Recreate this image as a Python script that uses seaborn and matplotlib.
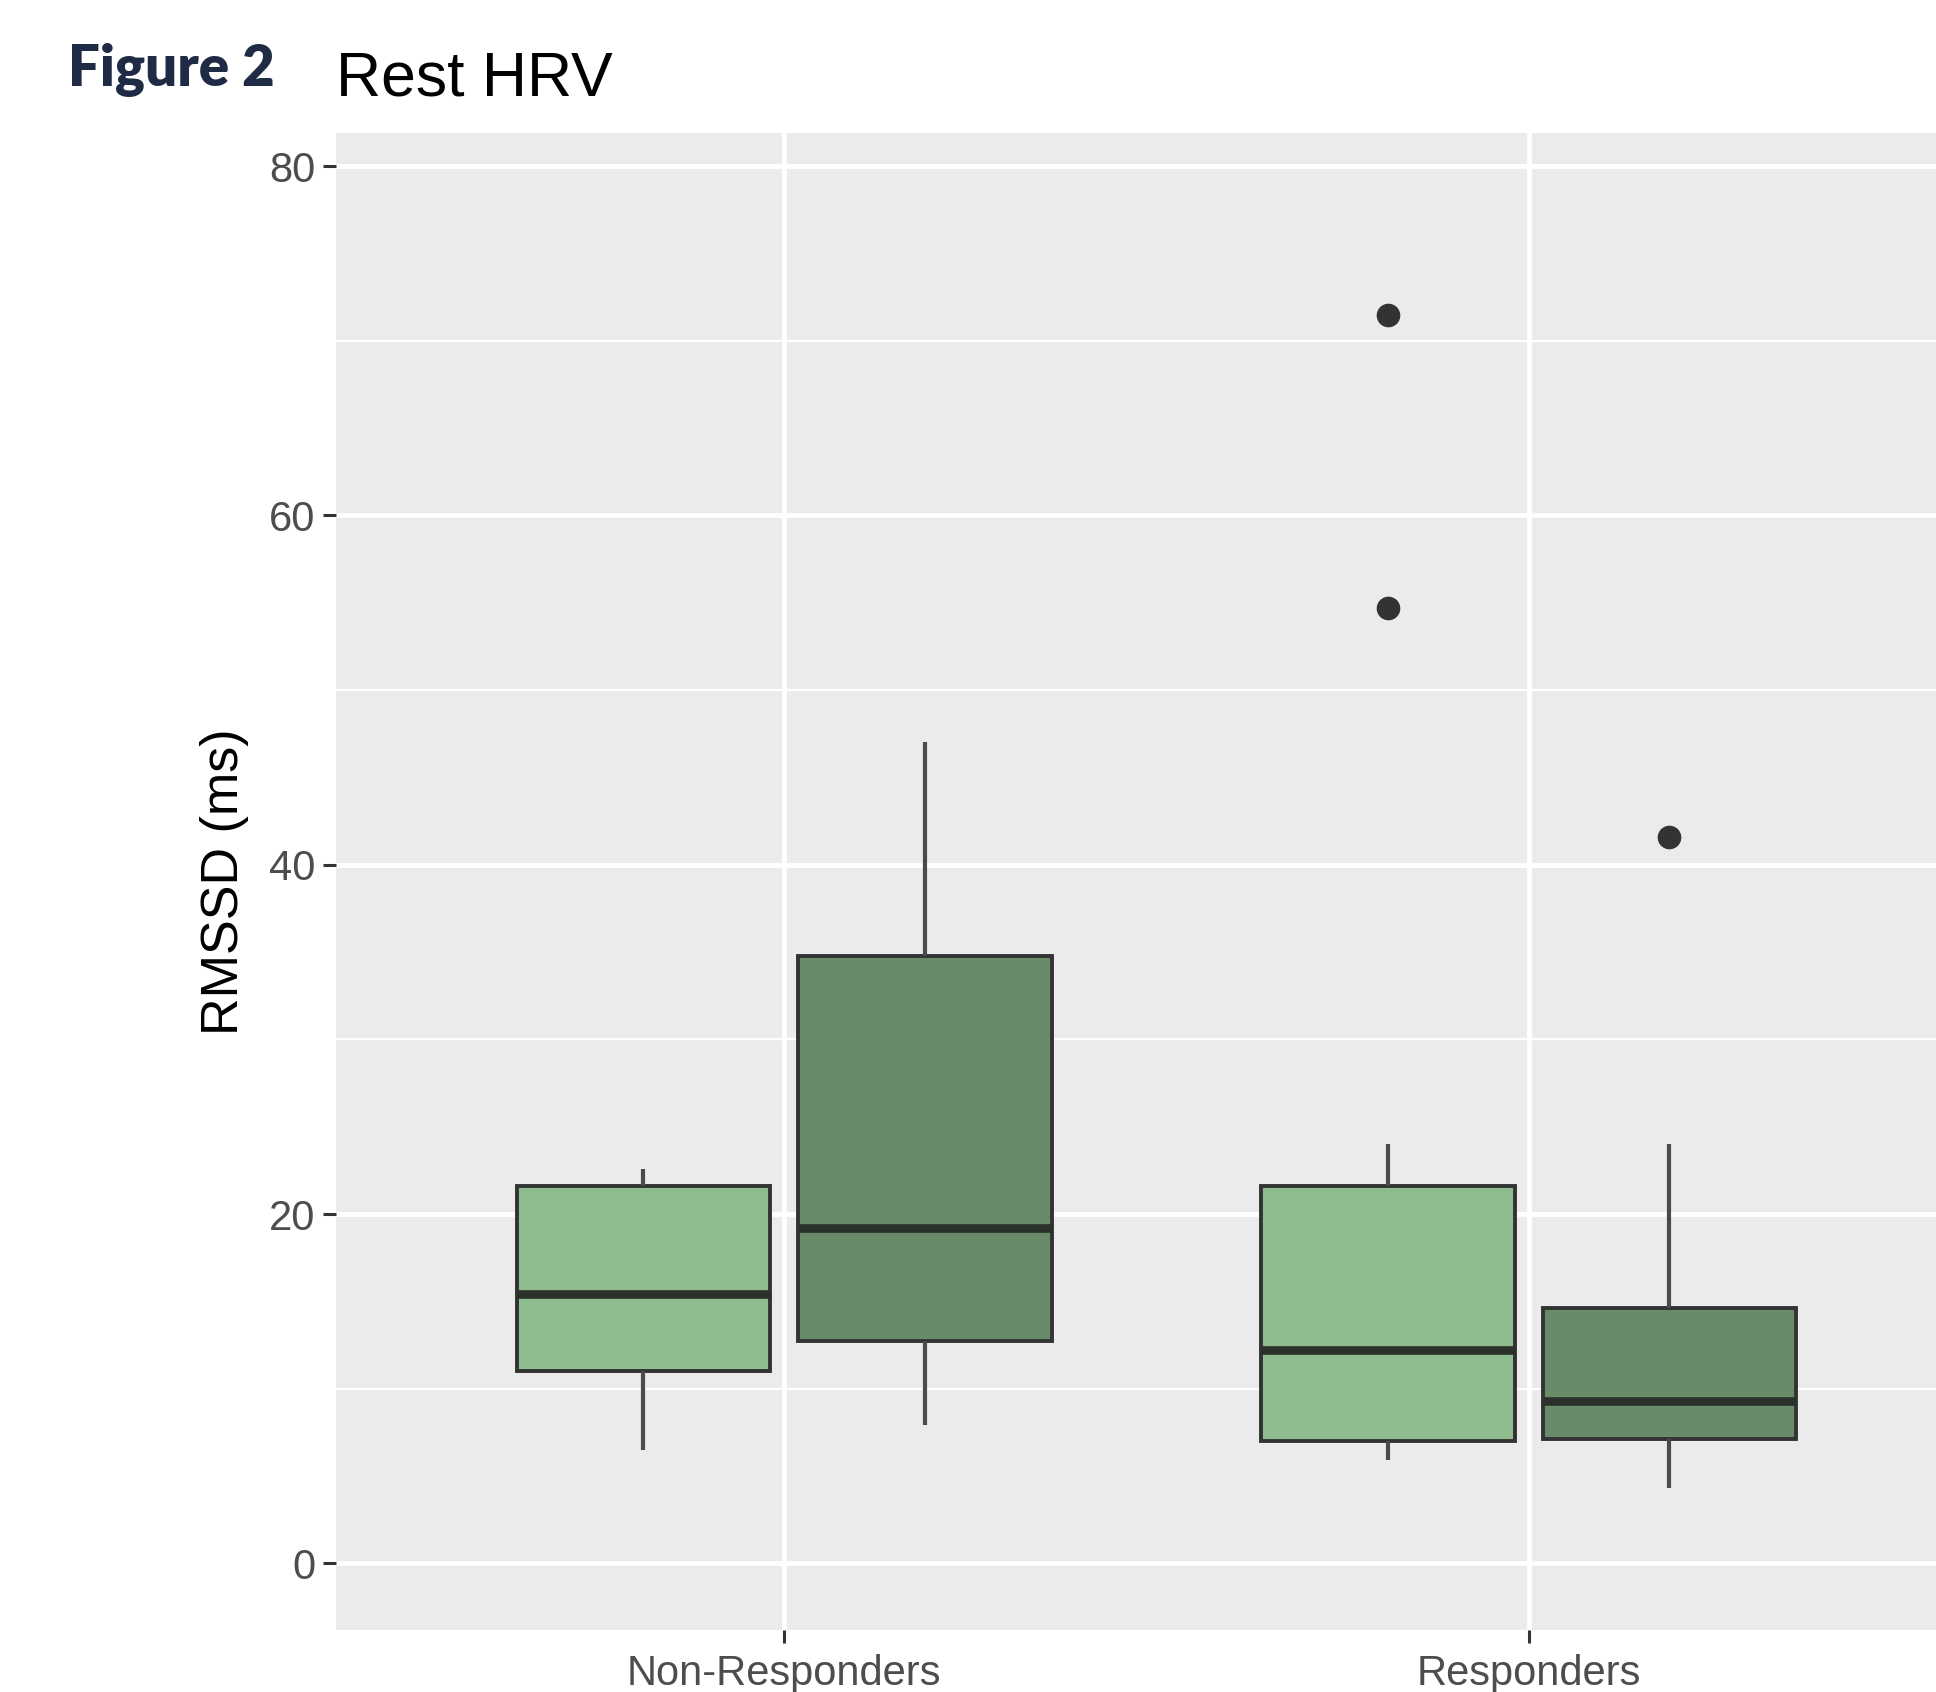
import numpy as np
import pandas as pd
import matplotlib
matplotlib.use("Agg")
import matplotlib.pyplot as plt
import seaborn as sns

# ---- data ----
groups = ["Non-Responders", "Responders"]
sessions = ["Session 1", "Session 2"]
nr_s1 = [6.5, 11.0, 15.4, 21.6, 22.6]
nr_s2 = [7.9, 12.7, 19.2, 34.8, 47.0]
r_s1 = [5.9, 6.3, 6.7, 7.0, 8.5, 10.5, 12.2, 15.0, 18.5, 21.6, 24.0, 54.7, 71.5]
r_s2 = [4.3, 5.8, 7.1, 8.2, 9.3, 11.5, 14.6, 24.0, 41.6]
y_ticks = [0, 20, 40, 60, 80]
y_minor = [10, 30, 50, 70]
fill_colors = ["#8FBC8F", "#698B69"]

rows = []
for g, s, vals in [(groups[0], sessions[0], nr_s1), (groups[0], sessions[1], nr_s2),
                   (groups[1], sessions[0], r_s1), (groups[1], sessions[1], r_s2)]:
    for v in vals:
        rows.append({"group": g, "session": s, "rmssd": v})
df = pd.DataFrame(rows)

sns.set_style("white")
plt.rcParams["font.family"] = ["Liberation Sans", "DejaVu Sans"]

fig = plt.figure(figsize=(19.36, 16.92), dpi=100)
ax = fig.add_axes([336 / 1936, 1 - 1630 / 1692, 1 - 336 / 1936, (1630 - 133) / 1692])
ax.set_facecolor("#EBEBEB")
ax.set_axisbelow(True)

sns.boxplot(data=df, x="group", y="rmssd", hue="session", order=groups,
            hue_order=sessions, palette=fill_colors, width=0.756, gap=0.1,
            linecolor="#333333", linewidth=2.8, whis=1.5, showcaps=False,
            medianprops=dict(linewidth=6.2, color="#2a302a"),
            whiskerprops=dict(linewidth=3.0, color="#4a4a4a"),
            flierprops=dict(marker="o", markersize=16, markerfacecolor="#333333",
                            markeredgecolor="#333333"),
            legend=False, ax=ax, saturation=1)

ax.set_xlim(-0.602, 1.547)
ax.set_ylim(-3.82, 81.9)
ax.set_yticks(y_ticks)
ax.set_yticks(y_minor, minor=True)
ax.set_yticklabels([str(t) for t in y_ticks])
ax.grid(which="major", axis="both", color="white", linewidth=3.4)
ax.grid(which="minor", axis="y", color="white", linewidth=1.6)
for sp in ax.spines.values():
    sp.set_visible(False)

ax.tick_params(axis="both", which="major", length=9.4, width=2.2, color="#333333",
               labelsize=30, labelcolor="#4D4D4D", pad=5.5, left=True, bottom=True)
ax.tick_params(axis="x", which="major", pad=8)
ax.tick_params(axis="y", which="minor", length=0)
ax.set_xlabel("")
ax.set_ylabel("RMSSD (ms)", fontsize=37.5, color="black", labelpad=14)

fig.text(336 / 1936, 1 - 96 / 1692, "Rest HRV", fontsize=45, color="black",
         ha="left", va="baseline")
fig.text(68 / 1936, 1 - 86 / 1692, "Figure 2", fontsize=40.5, fontweight="heavy",
         color="#1F2A44", ha="left", va="baseline", family=["Lato", "DejaVu Sans"])

fig.savefig("out.png", dpi=100, facecolor="white")
